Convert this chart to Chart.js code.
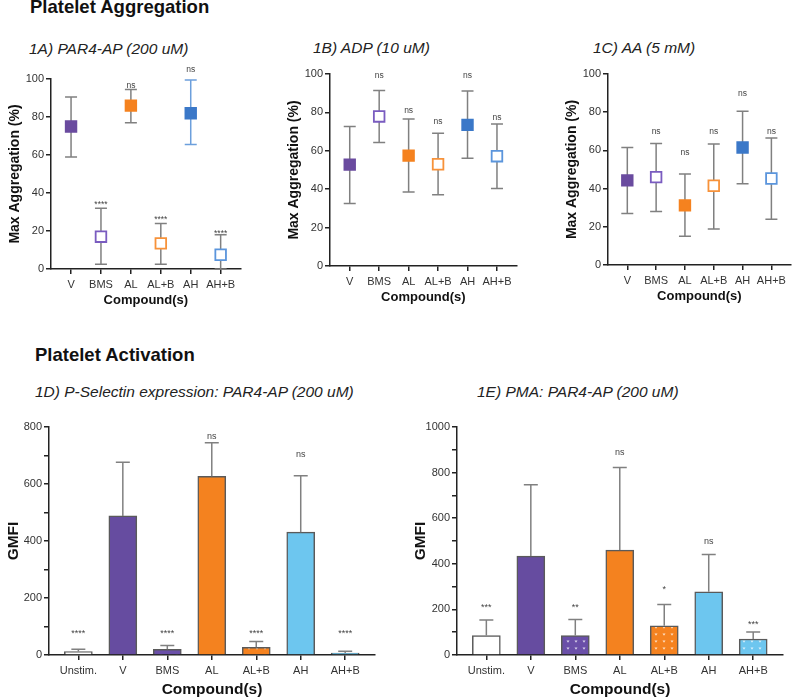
<!DOCTYPE html>
<html>
<head>
<meta charset="utf-8">
<script src="https://cdn.jsdelivr.net/npm/chart.js@4.4.1/dist/chart.umd.min.js"></script>
<style>
  body { margin: 0; width: 800px; height: 699px; overflow: hidden; background: #fff; position: relative;
         font-family: "Liberation Sans", Arial, sans-serif; }
  .head { position: absolute; font-weight: bold; font-size: 18.5px; line-height: 18.5px; color: #111; }
  .sub { position: absolute; font-style: italic; font-size: 15.5px; line-height: 15.5px; color: #222; }
  canvas { position: absolute; }
</style>
</head>
<body>
<div class="head" style="left:30px;top:-2px">Platelet Aggregation</div>
<div class="sub" style="left:29px;top:41px">1A) PAR4-AP (200 uM)</div>
<div class="sub" style="left:313px;top:40px">1B) ADP (10 uM)</div>
<div class="sub" style="left:593px;top:40px">1C) AA (5 mM)</div>
<div class="head" style="left:35px;top:346px">Platelet Activation</div>
<div class="sub" style="left:35px;top:384px">1D) P-Selectin expression: PAR4-AP (200 uM)</div>
<div class="sub" style="left:477px;top:384px">1E) PMA: PAR4-AP (200 uM)</div>

<canvas id="chartA"></canvas>
<canvas id="chartB"></canvas>
<canvas id="chartC"></canvas>
<canvas id="chartD"></canvas>
<canvas id="chartE"></canvas>

<script>
// --- data: aggregation (mean, error bar low / high, significance label + its height)
const aggLabels = ['V', 'BMS', 'AL', 'AL+B', 'AH', 'AH+B'];

const parMean = [75, 17, 86, 13.5, 82, 7.5];
const parLow = [59, 2.5, 77, 2.5, 65.5, 0];
const parHigh = [90.5, 32, 94.5, 24, 99.5, 18];
const parSig = ['', '****', 'ns', '****', 'ns', '****'];
const parSigY = [null, 35, 96.5, 27, 105, 19.5];

const adpMean = [52.8, 77.9, 57.5, 53, 73.5, 57.2];
const adpLow = [32.6, 64.3, 38.5, 37.1, 56.1, 40.4];
const adpHigh = [72.6, 91.4, 76.5, 69.2, 91.1, 74];
const adpSig = ['', 'ns', 'ns', 'ns', 'ns', 'ns'];
const adpSigY = [null, 99, 81, 75, 99, 77.5];

const aaMean = [44.3, 46, 31.2, 41.5, 61.5, 45.3];
const aaLow = [27, 28, 15, 18.8, 42.5, 23.9];
const aaHigh = [61.5, 63.6, 47.6, 63.4, 80.5, 66.5];
const aaSig = ['', 'ns', 'ns', 'ns', 'ns', 'ns'];
const aaSigY = [null, 70, 59, 70, 89.7, 70];

// --- data: activation (GMFI bars with upper error)
const actLabels = ['Unstim.', 'V', 'BMS', 'AL', 'AL+B', 'AH', 'AH+B'];

const pselMean = [12, 488, 20, 627, 27, 431, 7];
const pselHigh = [20, 676, 33, 745, 47, 629, 13];
const pselSig = ['****', '', '****', 'ns', '****', 'ns', '****'];
const pselSigY = [81, null, 81, 768, 81, 703, 81];

const pmaMean = [85, 434, 85, 460, 128, 277, 70];
const pmaHigh = [153, 747, 156, 822, 222, 441, 101];
const pmaSig = ['***', '', '**', 'ns', '*', 'ns', '***'];
const pmaSigY = [216, null, 216, 886, 298, 498, 141];

// colours
const purple = '#6a4b9f', orange = '#f5821f', blue = '#3b78c8';
const aggColors = [purple, '#7a5cc0', orange, '#f7923a', blue, '#5b95dc'];
const aggFilled = [true, false, true, false, true, false];

Chart.defaults.font.family = '"Liberation Sans", Arial, sans-serif';
Chart.defaults.color = '#333';
Chart.defaults.animation = false;

// tiny white heart-ish motif on a coloured ground
function makePattern(bg) {
  const c = document.createElement('canvas');
  c.width = 8; c.height = 7;
  const x = c.getContext('2d');
  x.fillStyle = bg;
  x.fillRect(0, 0, 8, 7);
  x.fillStyle = 'rgba(255,255,255,0.75)';
  x.beginPath();
  x.moveTo(2.5, 2.5); x.lineTo(5.5, 2.5); x.lineTo(4, 4.8);
  x.closePath();
  x.fill();
  return x.createPattern(c, 'repeat');
}

// error bars + significance labels
const errorBars = {
  id: 'errorBars',
  beforeDatasetsDraw(chart, args, opts) {
    if (!opts.after) drawErr(chart, opts);
  },
  afterDatasetsDraw(chart, args, opts) {
    if (opts.after) drawErr(chart, opts);
    drawSig(chart, opts);
  }
};

function drawErr(chart, opts) {
  const ctx = chart.ctx, xs = chart.scales.x, ys = chart.scales.y;
  ctx.save();
  ctx.lineWidth = 1.5;
  opts.high.forEach((h, i) => {
    const px = xs.getPixelForValue(i);
    const top = ys.getPixelForValue(h);
    const bot = ys.getPixelForValue(opts.low[i]);
    ctx.strokeStyle = opts.colors ? opts.colors[i] : '#808080';
    ctx.beginPath();
    ctx.moveTo(px, top); ctx.lineTo(px, bot);
    ctx.moveTo(px - opts.cap, top); ctx.lineTo(px + opts.cap, top);
    if (opts.lowCap) { ctx.moveTo(px - opts.cap, bot); ctx.lineTo(px + opts.cap, bot); }
    ctx.stroke();
  });
  ctx.restore();
}

function drawSig(chart, opts) {
  const ctx = chart.ctx, xs = chart.scales.x, ys = chart.scales.y;
  ctx.save();
  ctx.fillStyle = '#444';
  ctx.textAlign = 'center';
  ctx.textBaseline = 'middle';
  ctx.font = opts.sigSize + 'px "Liberation Sans", Arial, sans-serif';
  opts.sig.forEach((t, i) => {
    if (!t) return;
    const py = ys.getPixelForValue(opts.sigY[i]) + (t[0] === '*' ? 2 : 0);
    ctx.fillText(t, xs.getPixelForValue(i), py);
  });
  ctx.restore();
}

// size and place a canvas so its plot area lands on "area"
function place(id, area, yW, xH, padT, padR) {
  const c = document.getElementById(id);
  c.width = area.r - area.l + yW + padR;
  c.height = area.b - area.t + padT + xH;
  c.style.left = (area.l - yW) + 'px';
  c.style.top = (area.t - padT) + 'px';
  return c;
}

function axisX(labels, lo, hi, xH, titleSize) {
  return {
    type: 'linear', min: lo, max: hi, offset: false,
    afterBuildTicks: s => { s.ticks = labels.map((_, i) => ({ value: i })); },
    afterFit: s => { s.height = xH; },
    ticks: { callback: v => labels[v], autoSkip: false, maxRotation: 0, padding: 4, font: { size: 11 }, color: '#333' },
    grid: { drawOnChartArea: false, drawTicks: true, tickLength: 5, color: '#222', lineWidth: 1.5, offset: false },
    border: { color: '#222', width: 1.5 },
    title: { display: true, text: 'Compound(s)', font: { size: titleSize, weight: 'bold' }, color: '#111', padding: 0 }
  };
}

function axisY(max, step, labelStep, title, yW, titleSize) {
  return {
    min: 0, max: max,
    afterFit: s => { s.width = yW; },
    ticks: { stepSize: step, padding: 2, font: { size: 11 }, color: '#333',
             callback: v => (v % labelStep === 0 ? v : '') },
    grid: { drawOnChartArea: false, drawTicks: true, tickLength: 5, color: '#222', lineWidth: 1.5 },
    border: { color: '#222', width: 1.5 },
    title: { display: true, text: title, font: { size: titleSize, weight: 'bold' }, color: '#111', padding: { top: 7, bottom: 0 } }
  };
}

function aggChart(id, area, mean, low, high, sig, sigY, errColors) {
  const padR = id === 'chartC' ? 2 : 8;
  const canvas = place(id, area, 51, 39, 20, padR);
  return new Chart(canvas, {
    type: 'scatter',
    data: {
      datasets: [{
        data: mean.map((v, i) => ({ x: i, y: v })),
        pointStyle: 'rect',
        pointRadius: 7.5,
        pointBorderWidth: 1.8,
        pointBorderColor: aggColors,
        pointBackgroundColor: aggColors.map((c, i) => (aggFilled[i] ? c : '#fff')),
        clip: false
      }]
    },
    options: {
      responsive: false,
      events: [],
      layout: { padding: { top: 20, right: padR, left: 0, bottom: 0 } },
      plugins: {
        legend: { display: false },
        tooltip: { enabled: false },
        errorBars: { low: low, high: high, colors: errColors, cap: 6, lowCap: true, after: false,
                     sig: sig, sigY: sigY, sigSize: 8.5 }
      },
      scales: {
        x: axisX(aggLabels, -0.67, 5.67, 39, 13),
        y: axisY(100, 20, 20, 'Max Aggregation (%)', 51, 14)
      }
    },
    plugins: [errorBars]
  });
}

function actChart(id, area, yW, padR, mean, high, sig, sigY, yMax) {
  const canvas = place(id, area, yW, 44, 20, padR);
  const fills = ['#ffffff', '#664ca0', makePattern('#6a4fa8'), '#f4821f',
                 makePattern('#f5821f'), '#6dc6ef', makePattern('#6dc6ef')];
  return new Chart(canvas, {
    type: 'bar',
    data: {
      datasets: [{
        data: mean.map((v, i) => ({ x: i, y: v })),
        backgroundColor: fills,
        borderColor: '#5a5a5a',
        borderWidth: 1.5,
        borderSkipped: 'bottom',
        barThickness: 28
      }]
    },
    options: {
      responsive: false,
      events: [],
      layout: { padding: { top: 20, right: padR, left: 0, bottom: 0 } },
      plugins: {
        legend: { display: false },
        tooltip: { enabled: false },
        errorBars: { low: mean, high: high, cap: 7, lowCap: false, after: true,
                     sig: sig, sigY: sigY, sigSize: 9 }
      },
      scales: {
        x: axisX(actLabels, -0.66, 6.67, 44, 15.5),
        y: axisY(yMax, 100, 200, 'GMFI', yW, 15.5)
      }
    },
    plugins: [errorBars]
  });
}

const grey = '#808080';
aggChart('chartA', { l: 51, t: 79, r: 242, b: 269 }, parMean, parLow, parHigh, parSig, parSigY,
         [grey, grey, grey, grey, '#6c9fdc', grey]);
aggChart('chartB', { l: 330, t: 74, r: 518, b: 266 }, adpMean, adpLow, adpHigh, adpSig, adpSigY, null);
aggChart('chartC', { l: 608, t: 74, r: 798, b: 265 }, aaMean, aaLow, aaHigh, aaSig, aaSigY, null);

actChart('chartD', { l: 49, t: 427, r: 375, b: 655 }, 52, 5, pselMean, pselHigh, pselSig, pselSigY, 800);
actChart('chartE', { l: 457, t: 427, r: 783, b: 655 }, 53, 10, pmaMean, pmaHigh, pmaSig, pmaSigY, 1000);
</script>
</body>
</html>
